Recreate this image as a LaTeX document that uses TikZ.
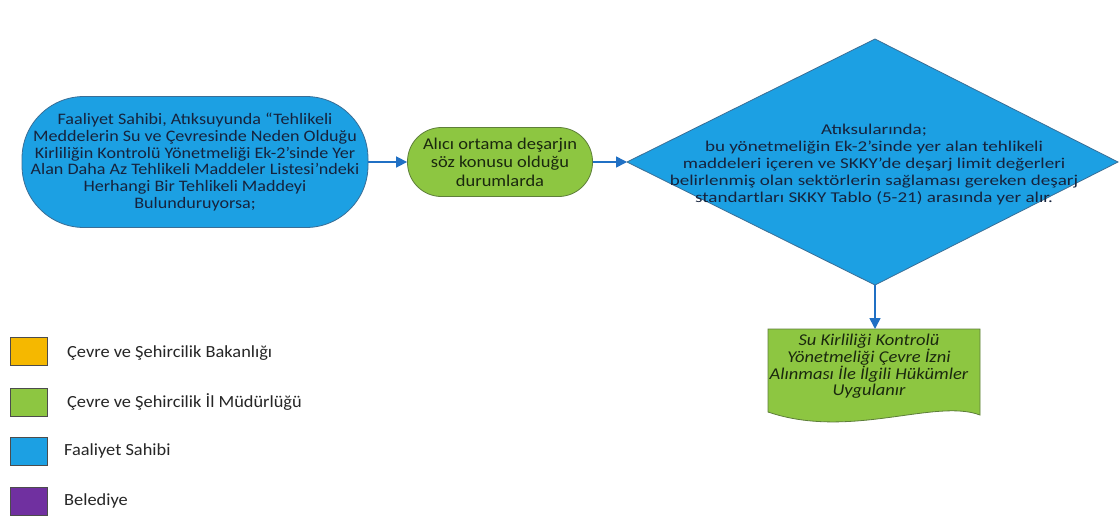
\documentclass[tikz,border=0pt]{standalone}
\usepackage{fontspec}
\setmainfont{Carlito}
\newfontfamily\leftfont[FakeStretch=1.13]{Carlito}
\newfontfamily\diafont[FakeStretch=1.27]{Carlito}
\newfontfamily\greenfont[FakeStretch=1.12]{Carlito}
\newfontfamily\legfont[FakeStretch=1.08]{Carlito}
\usetikzlibrary{arrows.meta}
\definecolor{fblue}{HTML}{1CA0E3}
\definecolor{fblueline}{HTML}{3A6E96}
\definecolor{fgreen}{HTML}{8DC641}
\definecolor{fgreenline}{HTML}{5E7F3A}
\definecolor{forange}{HTML}{F5B800}
\definecolor{fpurple}{HTML}{7030A0}
\definecolor{navytext}{HTML}{16233D}
\definecolor{greentext}{HTML}{1A280E}
\definecolor{arrowblue}{HTML}{2070C4}
\tikzset{
  bluestadium/.style={draw=fblueline, fill=fblue, line width=0.8pt, text=navytext, align=center},
  greenstadium/.style={draw=fgreenline, fill=fgreen, line width=0.8pt, text=greentext, align=center},
  flowarrow/.style={draw=arrowblue, line width=1.6pt, -{Triangle[length=11pt,width=11pt]}},
  legendbox/.style={draw=black!70, line width=0.6pt, minimum width=37pt, minimum height=28pt, inner sep=0pt},
  legendtext/.style={anchor=base west, text=black!85, font=\legfont\fontsize{17}{18}\selectfont, inner sep=0pt}
}
\begin{document}
\begin{tikzpicture}[x=1pt,y=-1pt]
\useasboundingbox[fill=white] (0,0) rectangle (1119,517);

% left stadium
\node[bluestadium, font=\leftfont\fontsize{16}{16.8}\selectfont, rounded corners=62pt, minimum width=346pt, minimum height=131pt, inner sep=0pt] (start) at (195,162)
 {Faaliyet Sahibi, Atıksuyunda “Tehlikeli\\Meddelerin Su ve Çevresinde Neden Olduğu\\Kirliliğin Kontrolü Yönetmeliği Ek-2’sinde Yer\\Alan Daha Az Tehlikeli Maddeler Listesi’ndeki\\Herhangi Bir Tehlikeli Maddeyi\\Bulunduruyorsa;};

% green stadium
\node[greenstadium, font=\greenfont\fontsize{16.5}{18.5}\selectfont, rounded corners=34pt, minimum width=185pt, minimum height=69pt, inner sep=0pt] (recv) at (500,162)
 {Alıcı ortama deşarjın\\söz konusu olduğu\\durumlarda};

% diamond
\coordinate (dl) at (627,162);
\coordinate (dt) at (875,39);
\coordinate (dr) at (1118,162);
\coordinate (db) at (875,285);
\path[draw=fblueline, fill=fblue, line width=0.8pt] (dl) -- (dt) -- (dr) -- (db) -- cycle;
\node[font=\diafont\fontsize{15}{17}\selectfont, text=navytext, align=center, inner sep=0pt] (dia) at (874,164)
 {Atıksularında;\\bu yönetmeliğin Ek-2’sinde yer alan tehlikeli\\maddeleri içeren ve SKKY’de deşarj limit değerleri\\belirlenmiş olan sektörlerin sağlaması gereken deşarj\\standartları SKKY Tablo (5-21) arasında yer alır.};

% document
\coordinate (doctl) at (768,329);
\coordinate (doctr) at (980,329);
\path[draw=fgreenline, fill=fgreen, line width=0.8pt]
  (doctl) -- (doctr) -- (980,415) .. controls (935,398) and (850,440) .. (768,412) -- cycle;
\node[font=\greenfont\fontsize{16.5}{16}\selectfont\itshape, text=greentext, align=center, inner sep=0pt] (doc) at (869,366)
 {Su Kirliliği Kontrolü\\Yönetmeliği Çevre İzni\\Alınması İle İlgili Hükümler\\Uygulanır};
\coordinate (doctop) at (875,329);

% connectors
\draw[flowarrow] (start.east) -- (recv.west);
\draw[flowarrow] (recv.east) -- (dl);
\draw[flowarrow] (db) -- (doctop);

% legend
\node[legendbox, fill=forange] (l1) at (28.5,351) {};
\node[legendbox, fill=fgreen] (l2) at (28.5,402) {};
\node[legendbox, fill=fblue] (l3) at (28.5,451) {};
\node[legendbox, fill=fpurple] (l4) at (28.5,501) {};
\node[legendtext] (t1) at (67,357) {Çevre ve Şehircilik Bakanlığı};
\node[legendtext] (t2) at (67,407) {Çevre ve Şehircilik İl Müdürlüğü};
\node[legendtext] (t3) at (64,455) {Faaliyet Sahibi};
\node[legendtext] (t4) at (64,505) {Belediye};
\end{tikzpicture}
\end{document}
